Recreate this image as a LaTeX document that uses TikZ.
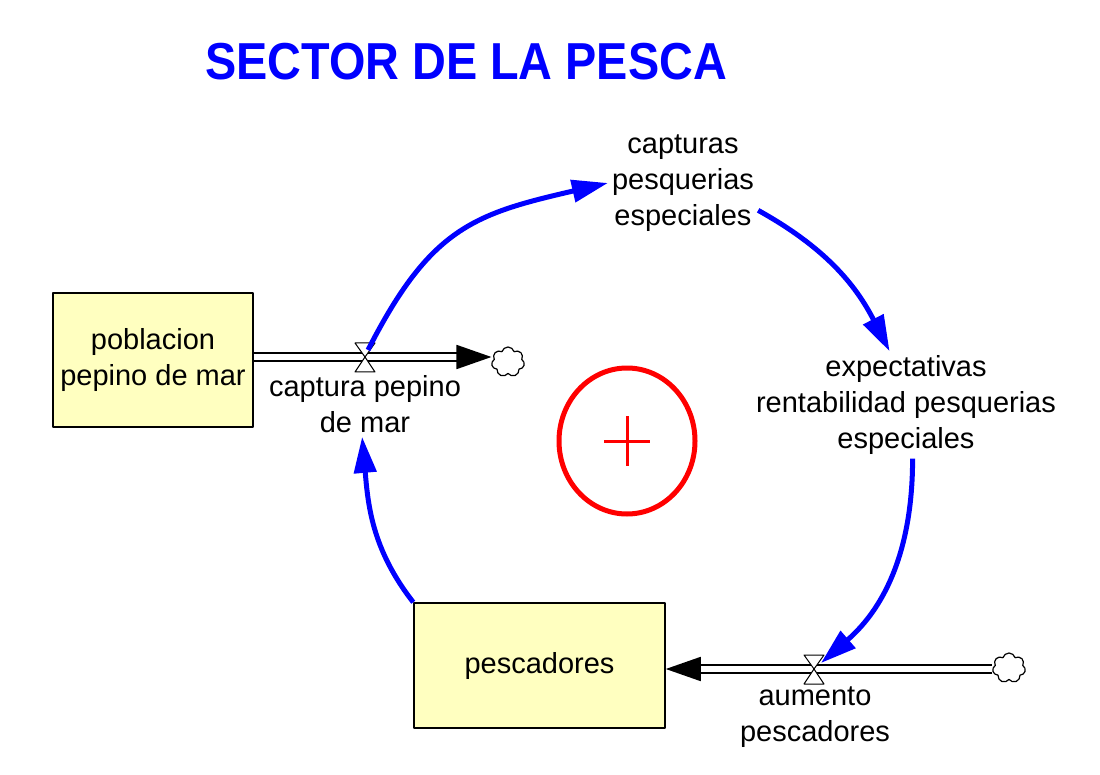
\documentclass[tikz,border=0pt]{standalone}
\usepackage{fontspec}
\setmainfont{Liberation Sans}
\newfontfamily\titlefont[FakeStretch=0.9]{Liberation Sans}
\usetikzlibrary{arrows.meta,shapes.symbols,shapes.geometric,calc}
\definecolor{stockfill}{RGB}{255,255,192}
\begin{document}
\begin{tikzpicture}[x=1pt, y=-1pt, line join=round, font=\fontsize{29}{36}\selectfont,
	stock/.style={draw, line width=1.5pt, fill=stockfill, align=center, inner sep=0pt},
	var/.style={align=center, inner sep=4pt},
	pipe/.style={double, double distance=6pt, line width=1.8pt, -{Triangle[length=35pt,width=24pt]}},
	link/.style={blue, line width=5pt, -{Triangle[length=36pt,width=22pt]}},
	nube/.style={cloud, cloud puffs=7, aspect=1.1, draw, line width=1.2pt, minimum width=33pt, minimum height=30pt, inner sep=0pt}]
	\useasboundingbox (0,0) rectangle (1100,775);
	\node[anchor=base, blue, font=\titlefont\fontsize{52}{60}\bfseries\selectfont] (title) at (466,80) {SECTOR DE LA PESCA};
	% niveles
	\node[stock, minimum width=200, minimum height=134] (pob) at (153,360) {poblacion\\pepino de mar};
	\node[stock, minimum width=251, minimum height=125] (pesc) at (539.5,665.5) {pescadores};
	% flujos
	\coordinate (v1) at (365,357);
	\coordinate (v2) at (814,669);
	\node[nube] (c1) at (508,362) {};
	\node[nube] (c2) at (1009,668) {};
	\draw[pipe] (pob.east|-v1) -- (c1.west|-v1);
	\draw[pipe] (c2.west|-v2) -- (pesc.east|-v2);
	\foreach \v in {v1,v2}
		\draw[fill=white, line width=1pt] (\v) -- ++(-10,-14) -- ++(20,0) -- cycle (\v) -- ++(-10,15) -- ++(20,0) -- cycle;
	\node[var] (lab1) at (365,404) {captura pepino\\de mar};
	\node[var] (lab2) at (815,717) {aumento\\pescadores};
	% variables
	\node[var] (capt) at (683,183) {capturas\\pesquerias\\especiales};
	\node[var] (expe) at (906,405) {expectativas\\rentabilidad pesquerias\\especiales};
	% bucle
	\node[draw=red, line width=5pt, ellipse, minimum width=136, minimum height=146] (loop) at (627,441) {};
	\draw[red, line width=3pt] (loop.center) ++(-23,0) -- ++(46,0) (loop.center) ++(0,-25) -- ++(0,50);
	% enlaces
	\draw[link] (v1) ++(3,-7) to[out=63, in=193, looseness=1.2] (capt.west);
	\draw[link] (capt.-20) to[out=-29, in=117] (expe.107);
	\draw[link] (expe.-83) to[out=-90, in=41] ($(v2)+(7,-6)$);
	\draw[link] (pesc.north west) to[out=128, in=-85] (lab1.265);
\end{tikzpicture}
\end{document}
